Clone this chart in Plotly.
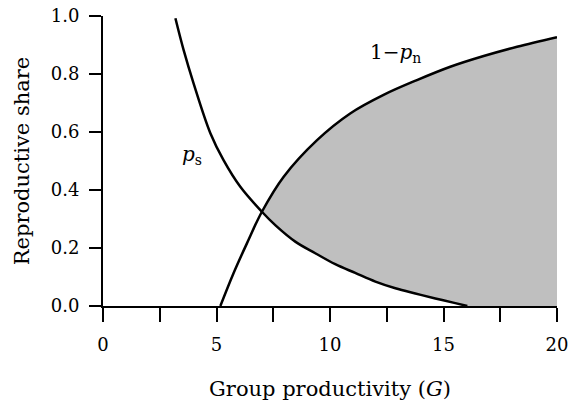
import plotly.graph_objects as go

# values
ps_x = [3.19, 3.55, 3.99, 4.73, 5.31, 6.05, 7.0, 7.6, 8.47, 9.35, 10.23, 11.11, 12.0, 12.88, 13.76, 14.64, 15.52, 16.05]
ps_y = [0.992, 0.883, 0.768, 0.596, 0.503, 0.411, 0.325, 0.278, 0.222, 0.182, 0.144, 0.114, 0.084, 0.061, 0.043, 0.026, 0.010, 0.0]

pn_x = [5.17, 5.75, 6.34, 7.0, 7.96, 9.43, 10.89, 12.36, 13.83, 15.3, 16.77, 18.24, 20.0]
pn_y = [0.0, 0.113, 0.216, 0.325, 0.446, 0.572, 0.664, 0.728, 0.779, 0.825, 0.862, 0.894, 0.927]

x_ticks = [0, 2.5, 5, 7.5, 10, 12.5, 15, 17.5, 20]
x_ticktext = ['0', '', '5', '', '10', '', '15', '', '20']
y_ticks = [0.0, 0.2, 0.4, 0.6, 0.8, 1.0]
y_ticktext = ['0.0', '0.2', '0.4', '0.6', '0.8', '1.0']

fontname = 'DejaVu Serif'

# shaded region: above p_s (and 0), below 1-p_n, from the crossing to G=20
i0 = pn_x.index(7.0)
j0 = ps_x.index(7.0)
low_x = ps_x[j0:] + [20.0]
low_y = ps_y[j0:] + [0.0]

fig = go.Figure()
fig.add_trace(go.Scatter(x=low_x, y=low_y, mode='lines', line=dict(width=0, shape='spline'),
                         hoverinfo='skip'))
fig.add_trace(go.Scatter(x=pn_x[i0:], y=pn_y[i0:], mode='lines', fill='tonexty',
                         fillcolor='#bfbfbf', line=dict(width=0, shape='spline'), hoverinfo='skip'))
fig.add_trace(go.Scatter(x=ps_x, y=ps_y, mode='lines', line=dict(color='black', width=2.5, shape='spline')))
fig.add_trace(go.Scatter(x=pn_x, y=pn_y, mode='lines', line=dict(color='black', width=2.5, shape='spline')))

fig.add_annotation(x=3.94, y=0.52, text='<i>p</i><sub>s</sub>', showarrow=False,
                   font=dict(family=fontname, size=20, color='black'))
fig.add_annotation(x=12.9, y=0.872, text='1−<i>p</i><sub>n</sub>', showarrow=False,
                   font=dict(family=fontname, size=20, color='black'))

fig.update_layout(
    width=571, height=404,
    margin=dict(l=103, r=14, t=16, b=98),
    plot_bgcolor='white', paper_bgcolor='white',
    showlegend=False,
    font=dict(family=fontname, size=18, color='black'),
)
fig.update_xaxes(range=[0, 20], tickvals=x_ticks, ticktext=x_ticktext, automargin=False,
                 ticklabeloverflow='allow', ticklabelstandoff=7,
                 ticks='outside', ticklen=14, tickwidth=2, tickcolor='black',
                 showline=True, linecolor='black', linewidth=2, showgrid=False, zeroline=False,
                 title=dict(text='Group productivity (<i>G</i>)', standoff=28, font=dict(size=21)))
fig.update_yaxes(range=[0, 1], tickvals=y_ticks, ticktext=y_ticktext, automargin=False,
                 ticklabeloverflow='allow', ticklabelstandoff=6,
                 ticks='outside', ticklen=12, tickwidth=2, tickcolor='black',
                 showline=True, linecolor='black', linewidth=2, showgrid=False, zeroline=False,
                 title=dict(text='Reproductive share', standoff=15, font=dict(size=21)))

# drop the page's default 8px body margin so the figure fills the window
fig.write_html("out.html", config={'displayModeBar': False},
               post_script="document.body.style.margin='0';")
